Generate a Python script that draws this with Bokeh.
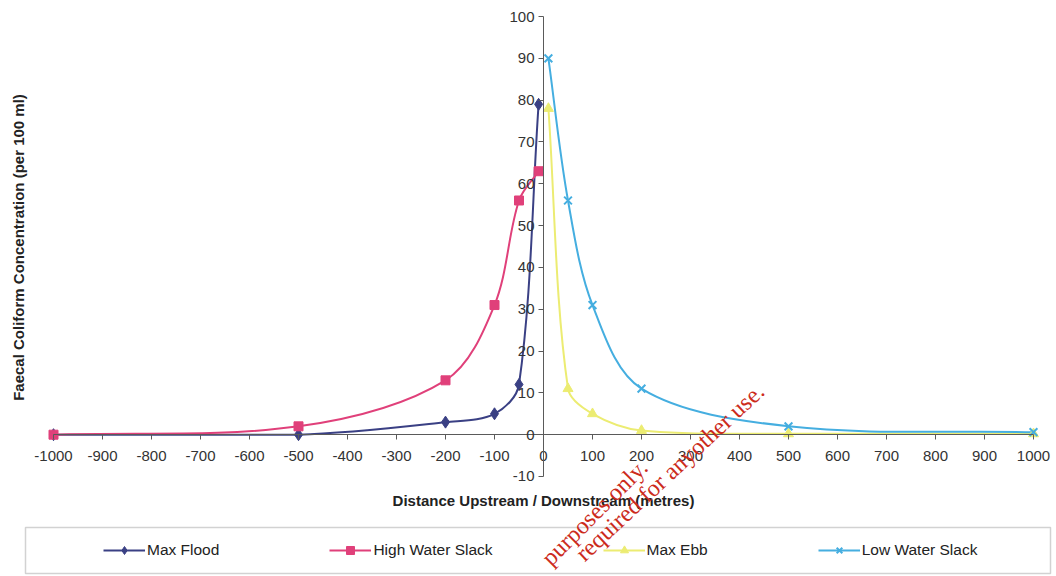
import math
from bokeh.plotting import figure
from bokeh.models import (Range1d, FixedTicker, Legend, LegendItem, Label, ColumnDataSource,
                          BoxAnnotation, CustomJSTickFormatter)
from bokeh.embed import file_html
from bokeh.resources import INLINE

# ---------------- data ----------------
dist_upstream = [-1000, -500, -200, -100, -50, -10]
max_flood = [0, 0, 3, 5, 12, 79]
high_water_slack = [0, 2, 13, 31, 56, 63]

dist_downstream = [10, 50, 100, 200, 500, 1000]
max_ebb = [78, 11, 5, 1, 0.2, 0.2]
low_water_slack = [90, 56, 31, 11, 2, 0.6]

x_ticks = list(range(-1000, 1001, 100))
y_ticks = list(range(-10, 101, 10))

series_names = ["Max Flood", "High Water Slack", "Max Ebb", "Low Water Slack"]
colors = ["#3a4084", "#e0407a", "#ecec72", "#45aee0"]
markers = ["diamond", "square", "triangle", "x"]
marker_sizes = [12, 9, 10, 11]

FONT = "Liberation Sans"

# ---------------- layout constants (pixels) ----------------
W, H = 1056, 576
PX_X = 0.49      # pixels per metre
PX_Y = 4.1818    # pixels per unit of concentration
X0_PX, Y100_PX = 53, 16   # canvas position of x=-1000 and y=100


def xd(px):
    return -1000 + (px - X0_PX) / PX_X


def yd(py):
    return 100 - (py - Y100_PX) / PX_Y


p = figure(width=W, height=H, output_backend="svg", toolbar_location=None,
           x_range=Range1d(xd(0), xd(W)), y_range=Range1d(yd(H), yd(0)),
           min_border=0, min_border_left=0, min_border_right=0,
           min_border_top=0, min_border_bottom=0)
p.grid.visible = False
p.outline_line_color = None
p.background_fill_color = "white"
p.border_fill_color = "white"

for ax in (p.xaxis[0], p.yaxis[0]):
    ax.fixed_location = 0
    ax.axis_line_color = "#5a5a5a"
    ax.axis_line_width = 1
    ax.major_tick_line_color = "#5a5a5a"
    ax.major_tick_in = 0
    ax.major_tick_out = 5
    ax.minor_tick_line_color = None
    ax.major_label_text_font = FONT
    ax.major_label_text_font_size = "15px"
    ax.major_label_text_color = "#333333"
    ax.formatter = CustomJSTickFormatter(code="return tick.toString()")
p.xaxis[0].ticker = FixedTicker(ticks=x_ticks)
p.yaxis[0].ticker = FixedTicker(ticks=y_ticks)
p.xaxis[0].bounds = (x_ticks[0], x_ticks[-1])
p.yaxis[0].bounds = (y_ticks[0], y_ticks[-1])
p.xaxis[0].major_label_standoff = 11
p.yaxis[0].major_label_standoff = 4

# axis titles
p.add_layout(Label(x=0, y=yd(500), text="Distance Upstream / Downstream (metres)",
                   text_align="center", text_baseline="middle",
                   text_font=FONT, text_font_size="15px", text_font_style="bold",
                   text_color="#222222"))
p.add_layout(Label(x=xd(18), y=yd(247), text="Faecal Coliform Concentration (per 100 ml)",
                   angle=90, angle_units="deg", text_align="center", text_baseline="middle",
                   text_font=FONT, text_font_size="15px", text_font_style="bold",
                   text_color="#222222"))


def smooth_segments(xs, ys, k=1.0 / 3.0):
    pts = [(x * PX_X, y * PX_Y) for x, y in zip(xs, ys)]
    n = len(pts)
    d = [math.hypot(pts[i + 1][0] - pts[i][0], pts[i + 1][1] - pts[i][1]) for i in range(n - 1)]
    T = []
    for i in range(n):
        if i == 0:
            T.append(((pts[1][0] - pts[0][0]) / d[0], (pts[1][1] - pts[0][1]) / d[0]))
        elif i == n - 1:
            T.append(((pts[i][0] - pts[i - 1][0]) / d[i - 1], (pts[i][1] - pts[i - 1][1]) / d[i - 1]))
        else:
            s = d[i - 1] + d[i]
            T.append(((pts[i + 1][0] - pts[i - 1][0]) / s, (pts[i + 1][1] - pts[i - 1][1]) / s))
    out = dict(x0=[], y0=[], x1=[], y1=[], cx0=[], cy0=[], cx1=[], cy1=[])
    for i in range(n - 1):
        out["x0"].append(xs[i]); out["y0"].append(ys[i])
        out["x1"].append(xs[i + 1]); out["y1"].append(ys[i + 1])
        cy0 = (pts[i][1] + T[i][1] * d[i] * k) / PX_Y
        cy1 = (pts[i + 1][1] - T[i + 1][1] * d[i] * k) / PX_Y
        if ys[i] == ys[i + 1]:
            cy0 = cy1 = ys[i]
        out["cx0"].append((pts[i][0] + T[i][0] * d[i] * k) / PX_X)
        out["cy0"].append(cy0)
        out["cx1"].append((pts[i + 1][0] - T[i + 1][0] * d[i] * k) / PX_X)
        out["cy1"].append(cy1)
    return out


all_series = [
    (dist_upstream, max_flood),
    (dist_upstream, high_water_slack),
    (dist_downstream, max_ebb),
    (dist_downstream, low_water_slack),
]

line_renderers = []
for (xs, ys), c in zip(all_series, colors):
    src = ColumnDataSource(smooth_segments(xs, ys))
    line_renderers.append(
        p.bezier(x0="x0", y0="y0", x1="x1", y1="y1", cx0="cx0", cy0="cy0", cx1="cx1", cy1="cy1",
                 source=src, line_color=c, line_width=2))
marker_renderers = []
for (xs, ys), c, m, ms in zip(all_series, colors, markers, marker_sizes):
    if m == "x":
        r = p.scatter(xs, ys, marker=m, size=ms, line_color=c, line_width=2)
    else:
        r = p.scatter(xs, ys, marker=m, size=ms, fill_color=c, line_color=c)
    marker_renderers.append(r)

# legend box and legend
p.add_layout(BoxAnnotation(left=xd(25), right=xd(1050), top=yd(527), bottom=yd(573),
                           fill_color=None, fill_alpha=0, line_color="#6a6a6a", line_width=1.5))

items = [LegendItem(label=name, renderers=[lr, mr])
         for name, lr, mr in zip(series_names, line_renderers, marker_renderers)]
leg = Legend(items=items, location=(103, 16), orientation="horizontal", spacing=110,
             glyph_width=42, glyph_height=20, label_standoff=2, padding=0, margin=0,
             label_text_font=FONT, label_text_font_size="15.5px", label_text_color="#222222",
             border_line_alpha=0, background_fill_alpha=0)
p.add_layout(leg, "center")

# watermark
wm_color = "#cc2b1c"
p.add_layout(Label(x=xd(643), y=yd(463), text="purposes only.", angle=45, angle_units="deg",
                   text_align="right", text_baseline="alphabetic", text_color=wm_color,
                   text_font="Liberation Serif", text_font_size="24px"))
p.add_layout(Label(x=xd(760), y=yd(387), text="required for anyother use.", angle=43, angle_units="deg",
                   text_align="right", text_baseline="alphabetic", text_color=wm_color,
                   text_font="Liberation Serif", text_font_size="24px"))

open("out.html", "w").write(file_html(p, INLINE))
